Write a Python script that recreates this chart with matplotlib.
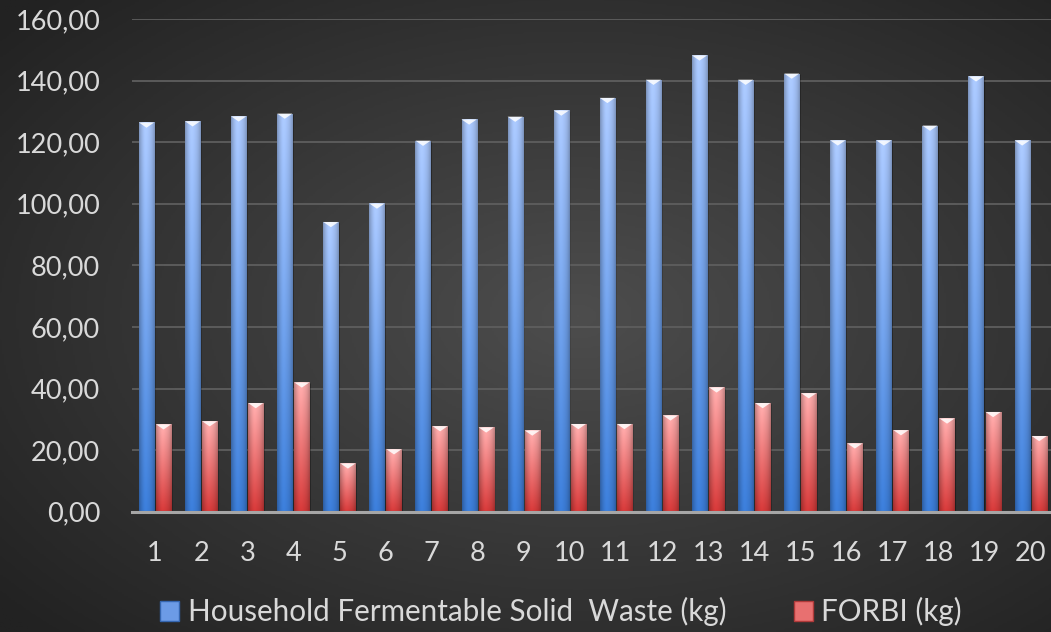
import numpy as np
import matplotlib.pyplot as plt
from matplotlib.colors import LinearSegmentedColormap, to_rgb
from matplotlib.patches import Polygon, Patch

# daily waste weights, days 1..20
days = [str(i) for i in range(1, 21)]
household_waste = [126.4, 126.8, 128.4, 129.3, 94.1, 100.1, 120.5, 127.4, 128.3, 130.3,
                   134.4, 140.3, 148.2, 140.3, 142.3, 120.6, 120.6, 125.4, 141.4, 120.6]
forbi = [28.4, 29.4, 35.3, 42.0, 15.7, 20.3, 27.8, 27.4, 26.4, 28.5,
         28.5, 31.3, 40.4, 35.3, 38.5, 22.2, 26.5, 30.3, 32.4, 24.6]
series_names = ['Household Fermentable Solid  Waste (kg)', 'FORBI (kg)']

plt.rcParams['font.family'] = ['Lato', 'DejaVu Sans']
txt_col = '#d9d9d9'

fig = plt.figure(figsize=(10.51, 6.32), dpi=100)

# dark radial background
bg = fig.add_axes([0, 0, 1, 1], zorder=-10)
yy, xx = np.mgrid[0:1:300j, 0:1:500j]
r = np.sqrt(((xx - 0.55) / 0.8) ** 2 + ((yy - 0.5) / 0.8) ** 2)
bg_cmap = LinearSegmentedColormap.from_list('bg', ['#4d4d4d', '#222222'])
bg.imshow(r, cmap=bg_cmap, vmin=0, vmax=0.9, extent=[0, 1, 0, 1],
          aspect='auto', origin='lower')
bg.axis('off')

ax = fig.add_axes([0.1256, 0.1903, 0.877, 0.7796])
ax.set_facecolor('none')

x = np.arange(len(days))
w = 0.33
off = 0.185
b1 = ax.bar(x - off, household_waste, w, color='#5b8fdf', zorder=3)
b2 = ax.bar(x + off, forbi, w, color='#e06060', zorder=3)


def shade(bars, bottom_col, top_col):
    lo = np.array(to_rgb(bottom_col))
    hi = np.array(to_rgb(top_col))
    v = np.linspace(0, 1, 64)[:, None, None]
    u = np.linspace(0, 1, 16)[None, :, None]
    grad = lo + (hi - lo) * v
    # cylinder-ish side darkening
    side = 1 - 0.22 * np.abs(2 * u - 1) ** 2.5 + 0.05 * np.exp(-((u - 0.4) / 0.2) ** 2)
    img = np.clip(grad * side, 0, 1)
    for p in bars:
        x0, bw, h = p.get_x(), p.get_width(), p.get_height()
        im = ax.imshow(img, extent=[x0, x0 + bw, 0, h], origin='lower',
                       aspect='auto', zorder=3.1, interpolation='bilinear')
        im.set_clip_path(p)
        # bevelled top
        d = 1.7
        ax.add_patch(Polygon([(x0, h), (x0 + bw, h), (x0 + bw / 2, h - d)],
                             closed=True, facecolor='white', alpha=0.85,
                             edgecolor='none', zorder=3.2))
        # slim shadow on right side
        ax.add_patch(Polygon([(x0 + bw, 0), (x0 + bw + 0.03, 0),
                              (x0 + bw + 0.03, h - 0.5), (x0 + bw, h)],
                             closed=True, facecolor='black', alpha=0.35,
                             edgecolor='none', zorder=2.9))


shade(b1, '#3a7ad3', '#a6c3f7')
shade(b2, '#cf3737', '#f7a8a8')

ax.set_xlim(-0.5, len(days) - 0.5)
ax.set_ylim(0, 160)
ax.set_xticks(x)
ax.set_xticklabels(days)
yt = np.arange(0, 161, 20)
ax.set_yticks(yt)
ax.set_yticklabels([f'{v:.2f}'.replace('.', ',') for v in yt])
ax.tick_params(axis='both', length=0, colors=txt_col, labelsize=19.5)
ax.tick_params(axis='y', pad=23)
ax.tick_params(axis='x', pad=21)

ax.yaxis.grid(True, color='#5e5e5e', lw=1.3, zorder=0)
ax.set_axisbelow(True)
for s in ['top', 'right', 'left']:
    ax.spines[s].set_visible(False)
ax.spines['bottom'].set_color('#a6a6a6')
ax.spines['bottom'].set_linewidth(2.2)
ax.spines['bottom'].set_zorder(4)

handles = [Patch(facecolor='#6c9be6', edgecolor='#3566b0'),
           Patch(facecolor='#e87070', edgecolor='#b03a3a')]
fig.legend(handles, series_names, loc='center', bbox_to_anchor=(0.534, 0.032),
           ncol=2, frameon=False, fontsize=21.3, labelcolor=txt_col,
           handlelength=0.62, handleheight=0.62, handletextpad=0.3,
           columnspacing=2.3)

fig.savefig('out.png', dpi=100)
